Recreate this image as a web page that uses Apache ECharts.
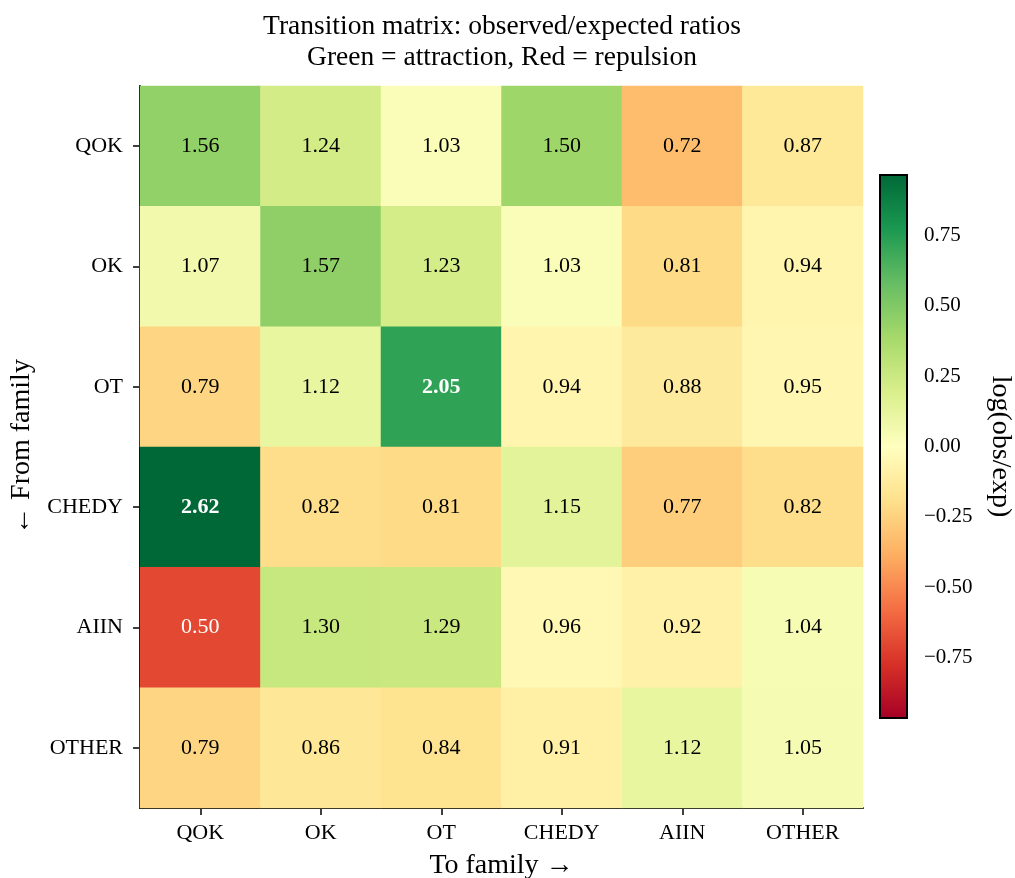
<!DOCTYPE html>
<html>
<head>
<meta charset="utf-8">
<script src="https://cdn.jsdelivr.net/npm/echarts@6/dist/echarts.min.js"></script>
<style>
  html, body { margin: 0; padding: 0; background: #fff; }
  #main { width: 1015px; height: 878px; }
</style>
</head>
<body>
<div id="main"></div>
<script>
// families (rows = from, cols = to)
var families = ['QOK', 'OK', 'OT', 'CHEDY', 'AIIN', 'OTHER'];

// observed/expected ratios, one row per "from" family
var rowQOK   = [1.56, 1.24, 1.03, 1.50, 0.72, 0.87];
var rowOK    = [1.07, 1.57, 1.23, 1.03, 0.81, 0.94];
var rowOT    = [0.79, 1.12, 2.05, 0.94, 0.88, 0.95];
var rowCHEDY = [2.62, 0.82, 0.81, 1.15, 0.77, 0.82];
var rowAIIN  = [0.50, 1.30, 1.29, 0.96, 0.92, 1.04];
var rowOTHER = [0.79, 0.86, 0.84, 0.91, 1.12, 1.05];
var ratios = [rowQOK, rowOK, rowOT, rowCHEDY, rowAIIN, rowOTHER];

// colorbar ticks
var cbTicks = [-0.75, -0.5, -0.25, 0, 0.25, 0.5, 0.75];

// RdYlGn
var rdylgn = ['#a50026', '#d73027', '#f46d43', '#fdae61', '#fee08b', '#ffffbf',
              '#d9ef8b', '#a6d96a', '#66bd63', '#1a9850', '#006837'];

var FONT = '"Liberation Serif", "DejaVu Serif", serif';

// symmetric colour limits
var vmax = 0;
ratios.forEach(function (r) { r.forEach(function (v) { vmax = Math.max(vmax, Math.abs(Math.log(v))); }); });
var vmin = -vmax;

var data = [];
ratios.forEach(function (row, i) {
  row.forEach(function (v, j) {
    var lv = Math.log(v);
    data.push({
      value: [j, i, lv],
      ratio: v,
      label: {
        color: Math.abs(lv) > 0.6 ? '#fff' : '#000',
        fontWeight: v > 2 ? 'bold' : 'normal'
      }
    });
  });
});

var chart = echarts.init(document.getElementById('main'));

var option = {
  backgroundColor: '#fff',
  animation: false,
  title: {
    text: 'Transition matrix: observed/expected ratios\nGreen = attraction, Red = repulsion',
    left: 497,
    textAlign: 'center',
    top: 6,
    textStyle: { fontFamily: FONT, fontSize: 27.5, fontWeight: 'normal', color: '#000', lineHeight: 31 }
  },
  grid: [
    { left: 140, top: 86, width: 723, height: 722, outerBoundsMode: 'none', containLabel: false },
    { left: 880, top: 175, width: 27, height: 543, outerBoundsMode: 'none', containLabel: false }
  ],
  xAxis: [{
    type: 'category',
    gridIndex: 0,
    data: families,
    position: 'bottom',
    name: 'To family \u2192',
    nameLocation: 'middle',
    nameGap: 44,
    nameTextStyle: { fontFamily: FONT, fontSize: 28, color: '#000' },
    axisLine: { show: true, lineStyle: { color: '#000', width: 2 } },
    axisTick: { show: true, alignWithLabel: true, length: 7, lineStyle: { color: '#000', width: 1.5 } },
    axisLabel: { fontFamily: FONT, fontSize: 22, color: '#000', margin: 14 },
    splitLine: { show: false }
  }, {
    type: 'value',
    gridIndex: 1,
    show: false
  }],
  yAxis: [{
    type: 'category',
    gridIndex: 0,
    data: families,
    inverse: true,
    name: '\u2190 From family',
    nameLocation: 'middle',
    nameRotate: 90,
    nameGap: 104,
    nameTextStyle: { fontFamily: FONT, fontSize: 28, color: '#000' },
    axisLine: { show: true, lineStyle: { color: '#000', width: 2 } },
    axisTick: { show: true, alignWithLabel: true, length: 7, lineStyle: { color: '#000', width: 1.5 } },
    axisLabel: { fontFamily: FONT, fontSize: 22, color: '#000', margin: 17 },
    splitLine: { show: false }
  }, {
    type: 'value',
    gridIndex: 1,
    position: 'right',
    min: vmin,
    max: vmax,
    name: 'log(obs/exp)',
    nameLocation: 'middle',
    nameRotate: -90,
    nameGap: 79,
    nameTextStyle: { fontFamily: FONT, fontSize: 28, color: '#000' },
    axisLine: { show: false },
    axisTick: { show: true, length: 7, customValues: cbTicks, lineStyle: { color: '#000', width: 1.5 } },
    axisLabel: {
      fontFamily: FONT, fontSize: 21, color: '#000', margin: 17,
      customValues: cbTicks,
      formatter: function (v) { return (v < 0 ? '\u2212' : '') + Math.abs(v).toFixed(2); }
    },
    splitLine: { show: false }
  }],
  visualMap: {
    show: false,
    type: 'continuous',
    min: vmin,
    max: vmax,
    dimension: 2,
    seriesIndex: 0,
    inRange: { color: rdylgn }
  },
  graphic: [{
    type: 'rect',
    shape: { x: 880, y: 175, width: 27, height: 543 },
    style: {
      fill: new echarts.graphic.LinearGradient(0, 0, 0, 1,
        rdylgn.slice().reverse().map(function (c, k) { return { offset: k / (rdylgn.length - 1), color: c }; })),
      stroke: '#000',
      lineWidth: 2
    },
    z: 10
  }],
  series: [{
    type: 'heatmap',
    xAxisIndex: 0,
    yAxisIndex: 0,
    data: data,
    label: {
      show: true,
      fontFamily: FONT,
      fontSize: 22,
      formatter: function (p) { return p.data.ratio.toFixed(2); }
    },
    itemStyle: { borderWidth: 0 },
    emphasis: { disabled: true }
  }]
};

chart.setOption(option);
</script>
</body>
</html>
